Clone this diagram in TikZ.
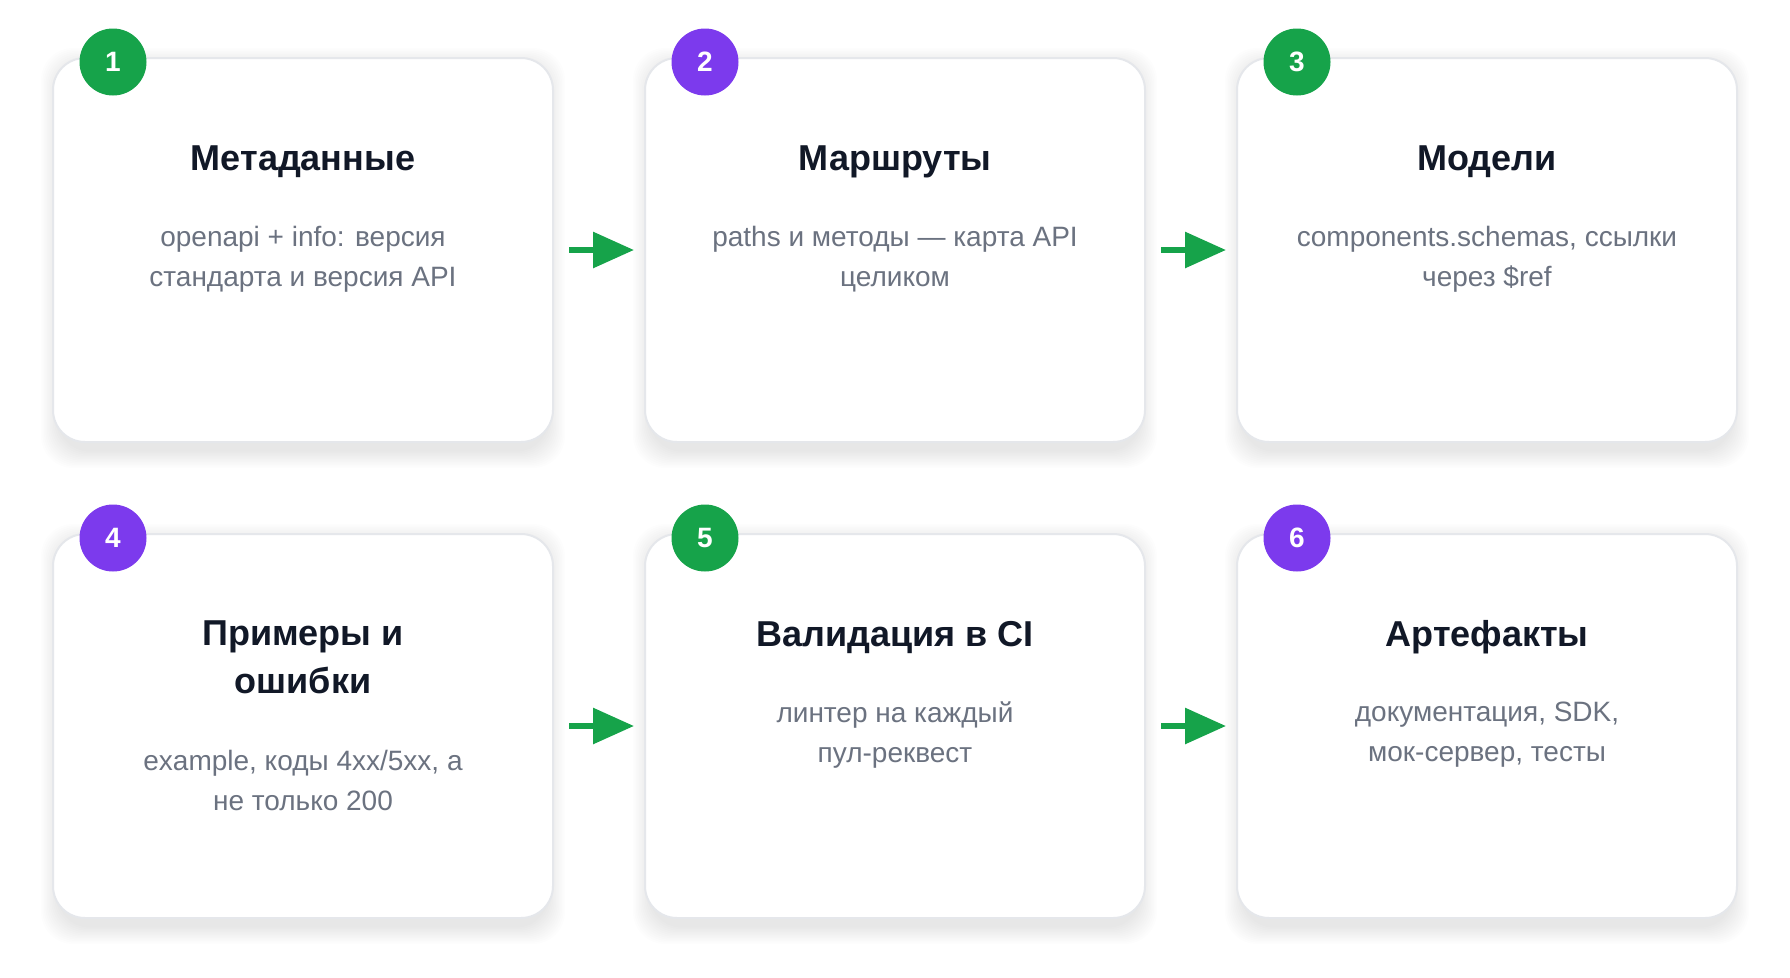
\documentclass[tikz,border=0pt]{standalone}
\usepackage{fontspec}
\setmainfont{Liberation Sans}
\usetikzlibrary{positioning,arrows.meta,backgrounds}
\definecolor{stepgreen}{HTML}{16A34A}
\definecolor{steppurple}{HTML}{7C3AED}
\definecolor{cardline}{HTML}{E5E7EB}
\definecolor{titleink}{HTML}{111827}
\definecolor{descink}{HTML}{6B7280}
\definecolor{shadowink}{HTML}{1E2A4A}
\newcommand\cardshadow[1]{%
  \foreach \k in {1,...,12}
    \fill[shadowink, opacity=0.008, rounded corners=32pt]
      ([xshift=6pt-\k*1.5pt, yshift=\k*1.5pt-8pt]#1.north west) rectangle
      ([xshift=\k*1.5pt-6pt, yshift=-8pt-\k*1.5pt]#1.south east);}
\tikzset{
  card/.style={draw=cardline, line width=2pt, fill=white, rounded corners=32pt,
    minimum width=500pt, minimum height=384pt, inner sep=0pt, outer sep=0pt},
  badge/.style={circle, minimum size=67pt, inner sep=0pt, outer sep=0pt, text=white,
    font=\fontsize{28}{34}\selectfont\bfseries},
  cardtitle/.style={anchor=north, align=center, inner sep=0pt, outer sep=0pt, text=titleink,
    font=\fontsize{36}{48}\selectfont\bfseries,
    execute at begin node=\strut, execute at end node=\strut},
  carddesc/.style={align=center, inner sep=0pt, outer sep=0pt, text=descink,
    font=\fontsize{28}{40}\selectfont,
    execute at begin node=\strut, execute at end node=\strut},
  flow/.style={draw=stepgreen, line width=6pt, -{Triangle[length=41pt, width=35pt]}}
}

\begin{document}
\begin{tikzpicture}[x=1pt, y=-1pt]
	%%%%% START %%%%%
	
	\node[card] (c1) at (303, 250) {};
	\node[badge, fill=stepgreen] (b1) at ([xshift=60pt, yshift=-4pt]c1.north west) {1};
	\node[cardtitle] (t1) at ([yshift=-79.1pt]c1.north) {Метаданные};
	\node[carddesc, below=41pt of t1] (d1) {openapi + info: версия\\стандарта и версия API};
	
	\node[card] (c2) at (895, 250) {};
	\node[badge, fill=steppurple] (b2) at ([xshift=60pt, yshift=-4pt]c2.north west) {2};
	\node[cardtitle] (t2) at ([yshift=-79.1pt]c2.north) {Маршруты};
	\node[carddesc, below=41pt of t2] (d2) {paths и методы — карта API\\целиком};
	
	\node[card] (c3) at (1487, 250) {};
	\node[badge, fill=stepgreen] (b3) at ([xshift=60pt, yshift=-4pt]c3.north west) {3};
	\node[cardtitle] (t3) at ([yshift=-79.1pt]c3.north) {Модели};
	\node[carddesc, below=41pt of t3] (d3) {components.schemas, ссылки\\через \$ref};
	
	\node[card] (c4) at (303, 726) {};
	\node[badge, fill=steppurple] (b4) at ([xshift=60pt, yshift=-4pt]c4.north west) {4};
	\node[cardtitle] (t4) at ([yshift=-87.1pt]c4.north) {Примеры и\\ошибки};
	\node[carddesc, below=42pt of t4] (d4) {example, коды 4xx/5xx, а\\не только 200};
	
	\node[card] (c5) at (895, 726) {};
	\node[badge, fill=stepgreen] (b5) at ([xshift=60pt, yshift=-4pt]c5.north west) {5};
	\node[cardtitle] (t5) at ([yshift=-79.1pt]c5.north) {Валидация в CI};
	\node[carddesc, below=41pt of t5] (d5) {линтер на каждый\\пул-реквест};
	
	\node[card] (c6) at (1487, 726) {};
	\node[badge, fill=steppurple] (b6) at ([xshift=60pt, yshift=-4pt]c6.north west) {6};
	\node[cardtitle] (t6) at ([yshift=-79.1pt]c6.north) {Артефакты};
	\node[carddesc, below=41pt of t6] (d6) {документация, SDK,\\мок-сервер, тесты};
	
	\draw[flow] ([xshift=16pt]c1.east) -- ([xshift=-11pt]c2.west);
	\draw[flow] ([xshift=16pt]c2.east) -- ([xshift=-11pt]c3.west);
	\draw[flow] ([xshift=16pt]c4.east) -- ([xshift=-11pt]c5.west);
	\draw[flow] ([xshift=16pt]c5.east) -- ([xshift=-11pt]c6.west);
	
	\begin{scope}[on background layer]
		\path[use as bounding box, fill=white] (0, 0) rectangle (1790, 977);
		\cardshadow{c1} \cardshadow{c2} \cardshadow{c3}
		\cardshadow{c4} \cardshadow{c5} \cardshadow{c6}
	\end{scope}
	
	%%%%% END %%%%%
\end{tikzpicture}
\end{document}
